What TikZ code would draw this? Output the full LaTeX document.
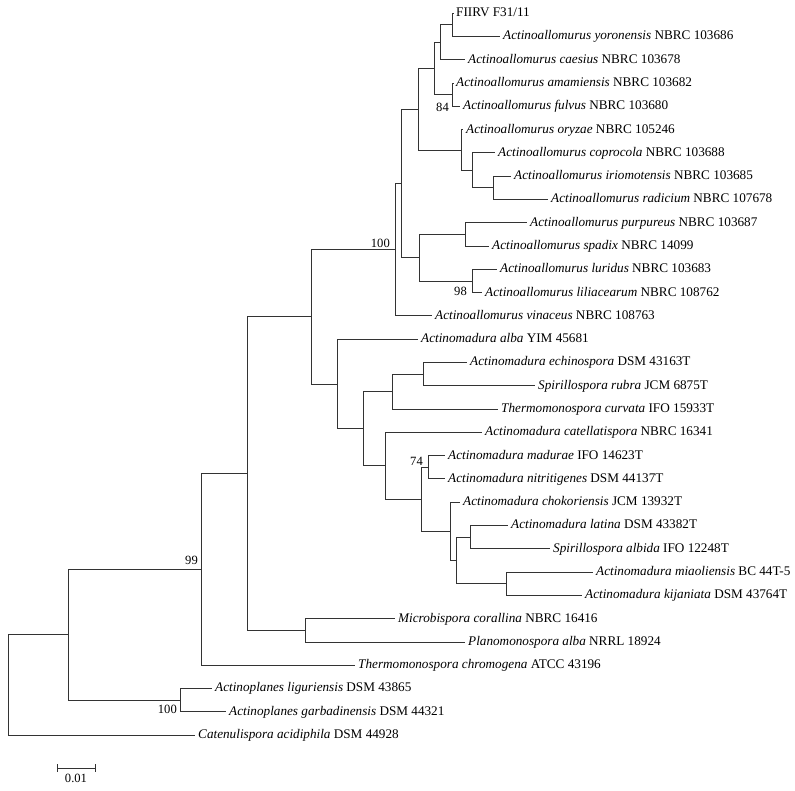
\documentclass[tikz,border=0pt]{standalone}
\usepackage{fontspec}
\setmainfont{Liberation Serif}
\usetikzlibrary{positioning}
\colorlet{penColor}{black!80}
\tikzset{
  branch/.style={penColor,line width=0.7pt},
  lab/.style={inner sep=0pt,text height=7pt,text depth=0pt,font=\fontsize{13.2}{15}\selectfont},
  boot/.style={inner sep=0pt,font=\fontsize{12.6}{14}\selectfont}
}

\begin{document}
\begin{tikzpicture}[x=1pt,y=-1pt]
\useasboundingbox (0,0) rectangle (795,790);
% internal nodes
\coordinate (a1) at (452,24.7);
\coordinate (a2) at (440,42.1);
\coordinate (a3) at (452,94.6);
\coordinate (a4) at (434,68.4);
\coordinate (a5) at (493,187.7);
\coordinate (a6) at (472,170.2);
\coordinate (a7) at (461,149.9);
\coordinate (a8) at (418,109.1);
\coordinate (a9) at (465,234.3);
\coordinate (a10) at (472,280.9);
\coordinate (a11) at (419,257.6);
\coordinate (a12) at (401,183.4);
\coordinate (a13) at (395,249.6);
\coordinate (m1) at (423,374.0);
\coordinate (m2) at (392,391.5);
\coordinate (m3) at (428,467.2);
\coordinate (m4) at (470,537.1);
\coordinate (m5) at (506,583.7);
\coordinate (m6) at (456,560.4);
\coordinate (m7) at (450,531.3);
\coordinate (m8) at (421,499.3);
\coordinate (m9) at (385,465.8);
\coordinate (m10) at (363,428.7);
\coordinate (m11) at (337,383.9);
\coordinate (r1) at (311,316.8);
\coordinate (p1) at (305,630.3);
\coordinate (r2) at (247,473.6);
\coordinate (r3) at (201,569.4);
\coordinate (o1) at (180,700.1);
\coordinate (r4) at (68,634.8);
\coordinate (root) at (8,684.9);

% leaves
\coordinate (t1) at (454,13.0);   \node[lab,right=2pt of t1] (l1) {FIIRV F31/11};
\coordinate (t2) at (500,36.3);   \node[lab,right=3pt of t2] (l2) {\textit{Actinoallomurus yoronensis} NBRC 103686};
\coordinate (t3) at (465,59.6);   \node[lab,right=3pt of t3] (l3) {\textit{Actinoallomurus caesius} NBRC 103678};
\coordinate (t4) at (454,82.9);   \node[lab,right=2pt of t4] (l4) {\textit{Actinoallomurus amamiensis} NBRC 103682};
\coordinate (t5) at (460,106.2);  \node[lab,right=3pt of t5] (l5) {\textit{Actinoallomurus fulvus} NBRC 103680};
\coordinate (t6) at (463,129.5);  \node[lab,right=3pt of t6] (l6) {\textit{Actinoallomurus oryzae} NBRC 105246};
\coordinate (t7) at (495,152.7);  \node[lab,right=3pt of t7] (l7) {\textit{Actinoallomurus coprocola} NBRC 103688};
\coordinate (t8) at (511,176.0);  \node[lab,right=3pt of t8] (l8) {\textit{Actinoallomurus iriomotensis} NBRC 103685};
\coordinate (t9) at (548,199.3);  \node[lab,right=3pt of t9] (l9) {\textit{Actinoallomurus radicium} NBRC 107678};
\coordinate (t10) at (527,222.6); \node[lab,right=3pt of t10] (l10) {\textit{Actinoallomurus purpureus} NBRC 103687};
\coordinate (t11) at (489,245.9); \node[lab,right=3pt of t11] (l11) {\textit{Actinoallomurus spadix} NBRC 14099};
\coordinate (t12) at (497,269.2); \node[lab,right=3pt of t12] (l12) {\textit{Actinoallomurus luridus} NBRC 103683};
\coordinate (t13) at (482,292.5); \node[lab,right=3pt of t13] (l13) {\textit{Actinoallomurus liliacearum} NBRC 108762};
\coordinate (t14) at (432,315.8); \node[lab,right=3pt of t14] (l14) {\textit{Actinoallomurus vinaceus} NBRC 108763};
\coordinate (t15) at (418,339.1); \node[lab,right=3pt of t15] (l15) {\textit{Actinomadura alba} YIM 45681};
\coordinate (t16) at (467,362.4); \node[lab,right=3pt of t16] (l16) {\textit{Actinomadura echinospora} DSM 43163T};
\coordinate (t17) at (535,385.6); \node[lab,right=3pt of t17] (l17) {\textit{Spirillospora rubra} JCM 6875T};
\coordinate (t18) at (498,408.9); \node[lab,right=3pt of t18] (l18) {\textit{Thermomonospora curvata} IFO 15933T};
\coordinate (t19) at (482,432.2); \node[lab,right=3pt of t19] (l19) {\textit{Actinomadura catellatispora} NBRC 16341};
\coordinate (t20) at (445,455.5); \node[lab,right=3pt of t20] (l20) {\textit{Actinomadura madurae} IFO 14623T};
\coordinate (t21) at (445,478.8); \node[lab,right=3pt of t21] (l21) {\textit{Actinomadura nitritigenes} DSM 44137T};
\coordinate (t22) at (460,502.1); \node[lab,right=3pt of t22] (l22) {\textit{Actinomadura chokoriensis} JCM 13932T};
\coordinate (t23) at (508,525.4); \node[lab,right=3pt of t23] (l23) {\textit{Actinomadura latina} DSM 43382T};
\coordinate (t24) at (550,548.7); \node[lab,right=3pt of t24] (l24) {\textit{Spirillospora albida} IFO 12248T};
\coordinate (t25) at (593,572.0); \node[lab,right=3pt of t25] (l25) {\textit{Actinomadura miaoliensis} BC 44T-5};
\coordinate (t26) at (582,595.3); \node[lab,right=3pt of t26] (l26) {\textit{Actinomadura kijaniata} DSM 43764T};
\coordinate (t27) at (395,618.6); \node[lab,right=3pt of t27] (l27) {\textit{Microbispora corallina} NBRC 16416};
\coordinate (t28) at (465,641.9); \node[lab,right=3pt of t28] (l28) {\textit{Planomonospora alba} NRRL 18924};
\coordinate (t29) at (355,665.1); \node[lab,right=3pt of t29] (l29) {\textit{Thermomonospora chromogena} ATCC 43196};
\coordinate (t30) at (212,688.4); \node[lab,right=3pt of t30] (l30) {\textit{Actinoplanes liguriensis} DSM 43865};
\coordinate (t31) at (226,711.7); \node[lab,right=3pt of t31] (l31) {\textit{Actinoplanes garbadinensis} DSM 44321};
\coordinate (t32) at (195,735.0); \node[lab,right=3pt of t32] (l32) {\textit{Catenulispora acidiphila} DSM 44928};

% branches
\foreach \p/\c in {a1/t1,a1/t2,a2/a1,a2/t3,a3/t4,a3/t5,a4/a2,a4/a3,a5/t8,a5/t9,a6/t7,a6/a5,
  a7/t6,a7/a6,a8/a4,a8/a7,a9/t10,a9/t11,a10/t12,a10/t13,a11/a9,a11/a10,a12/a8,a12/a11,
  a13/a12,a13/t14,m1/t16,m1/t17,m2/m1,m2/t18,m3/t20,m3/t21,m4/t23,m4/t24,m5/t25,m5/t26,
  m6/m4,m6/m5,m7/t22,m7/m6,m8/m3,m8/m7,m9/t19,m9/m8,m10/m2,m10/m9,m11/t15,m11/m10,
  r1/a13,r1/m11,p1/t27,p1/t28,r2/r1,r2/p1,r3/r2,r3/t29,o1/t30,o1/t31,r4/r3,r4/o1,
  root/r4,root/t32}
  \draw[branch] (\p) |- (\c);

% bootstrap values
\node[boot,anchor=base east] (b84) at (449,111) {84};
\node[boot,anchor=base east] (b98) at (467,295) {98};
\node[boot,anchor=base east] (b100a) at (390,247) {100};
\node[boot,anchor=base east] (b74) at (423,465) {74};
\node[boot,anchor=base east] (b99) at (198,564) {99};
\node[boot,anchor=base east] (b100b) at (177,713) {100};

% scale bar
\coordinate (s1) at (57,768);
\coordinate (s2) at (95,768);
\draw[branch] (s1) -- (s2);
\draw[branch] ([yshift=4pt]s1) -- ([yshift=-4pt]s1);
\draw[branch] ([yshift=4pt]s2) -- ([yshift=-4pt]s2);
\node[boot,anchor=base] (sc) at (76,782) {0.01};
\end{tikzpicture}
\end{document}
